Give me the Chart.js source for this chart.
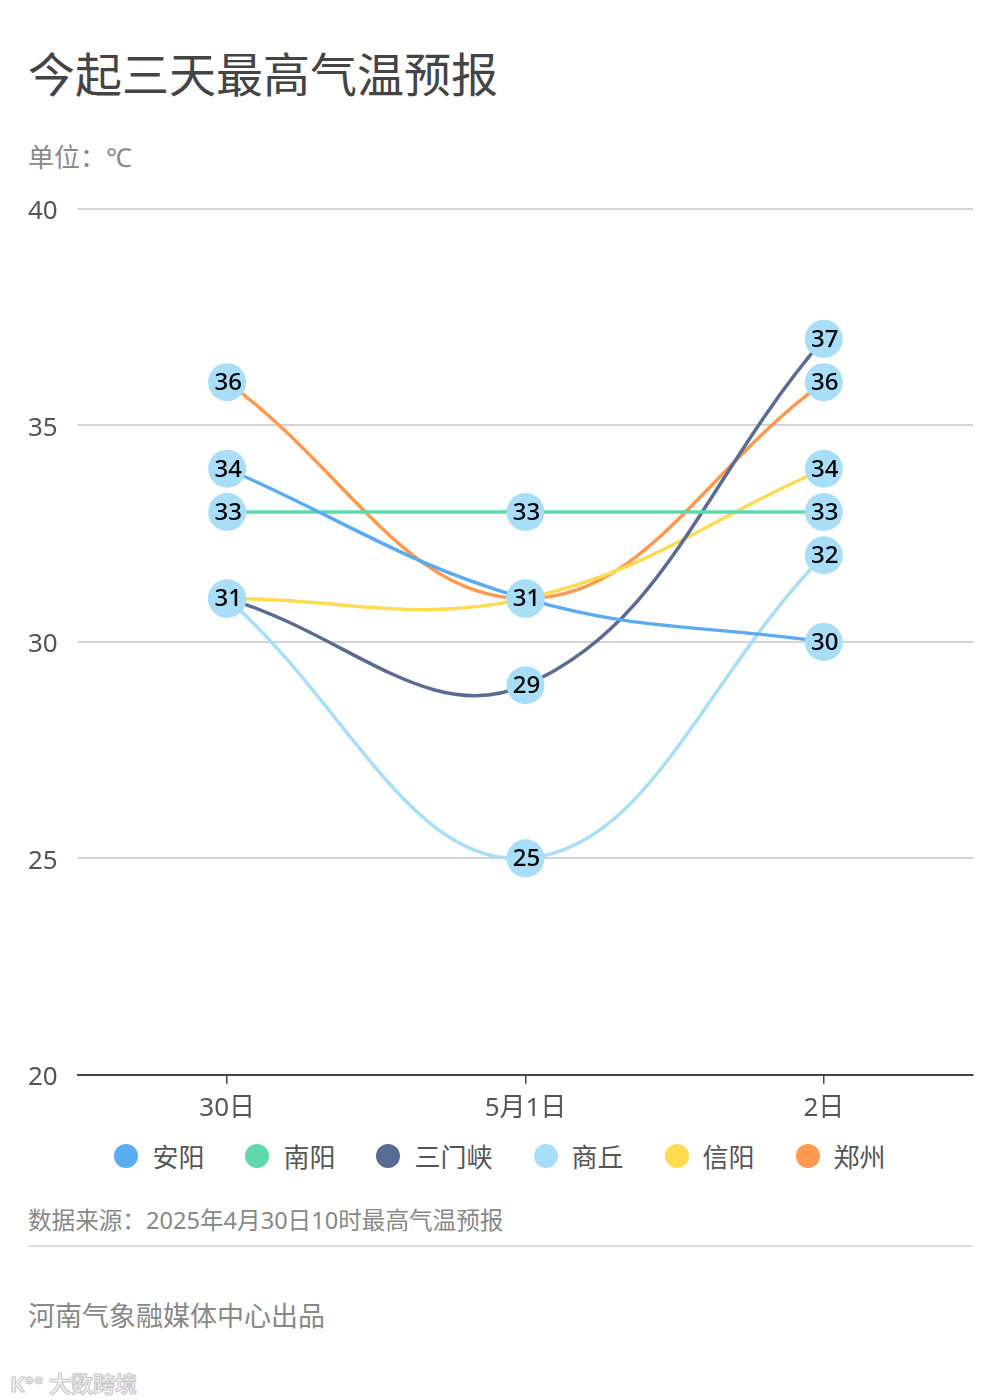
<!DOCTYPE html>
<html><head><meta charset="utf-8">
<script src="https://cdn.jsdelivr.net/npm/chart.js@4.4.1/dist/chart.umd.min.js"></script>
<style>
html,body{margin:0;padding:0;background:#fff;width:1000px;height:1400px;overflow:hidden;font-family:"Noto Sans","Noto Sans CJK SC",sans-serif;}
.t{position:absolute;left:28px;white-space:nowrap;}
#title{top:42px;font-size:47px;color:#444;line-height:64px;}
#unit{top:139px;font-size:26px;color:#888;line-height:36px;}
#src{top:1203px;font-size:23.6px;color:#888;line-height:34px;}
#hr{position:absolute;left:28px;top:1245px;width:945px;height:2px;background:#ddd;}
#org{top:1297px;font-size:27px;color:#888;line-height:38px;}
#wm{position:absolute;left:10px;top:1366px;font-size:22px;color:#f2f2f2;font-weight:bold;-webkit-text-stroke:1px #c8c8c8;}
#wrap{position:absolute;left:0;top:180px;width:1000px;height:955px;}
#legend{position:absolute;left:0;top:1136px;width:1000px;height:40px;display:flex;justify-content:center;align-items:center;gap:41px;font-size:26px;color:#555;}
#legend .it{display:flex;align-items:center;}
#legend .dot{width:24px;height:24px;border-radius:50%;margin-right:14px;}
</style></head>
<body>
<div class="t" id="title">今起三天最高气温预报</div>
<div class="t" id="unit">单位：℃</div>
<div id="wrap"><canvas id="c"></canvas></div>
<div id="legend"></div>
<div class="t" id="src">数据来源：2025年4月30日10时最高气温预报</div>
<div id="hr"></div>
<div class="t" id="org">河南气象融媒体中心出品</div>
<div id="wm">K°° 大数跨境</div>
<script>
const categories = ["30日", "5月1日", "2日"];
const seriesNames = ["安阳", "南阳", "三门峡", "商丘", "信阳", "郑州"];
const anyang = [34, 31, 30];
const nanyang = [33, 33, 33];
const sanmenxia = [31, 29, 37];
const shangqiu = [31, 25, 32];
const xinyang = [31, 31, 34];
const zhengzhou = [36, 31, 36];
const colors = ["#5aabef", "#5fd8ac", "#5a6b94", "#a8def8", "#fedc52", "#fe9a4f"];
const yTicks = [20, 25, 30, 35, 40];

const FONT = '"Noto Sans","Noto Sans CJK SC",sans-serif';
const allSeries = [anyang, nanyang, sanmenxia, shangqiu, xinyang, zhengzhou];

// HTML legend built from the series arrays
const lg = document.getElementById('legend');
seriesNames.forEach((n, i) => {
  const it = document.createElement('div'); it.className = 'it';
  const d = document.createElement('span'); d.className = 'dot'; d.style.background = colors[i];
  const s = document.createElement('span'); s.textContent = n;
  it.appendChild(d); it.appendChild(s); lg.appendChild(it);
});

const labelPlugin = {
  id: 'circleLabels',
  afterDatasetsDraw(chart) {
    const ctx = chart.ctx;
    ctx.save();
    chart.data.datasets.forEach((ds, di) => {
      const meta = chart.getDatasetMeta(di);
      meta.data.forEach((pt, i) => {
        ctx.beginPath();
        ctx.fillStyle = '#a8def8';
        ctx.arc(pt.x, pt.y, 19, 0, Math.PI * 2);
        ctx.fill();
        ctx.fillStyle = '#000';
        ctx.font = '500 24px ' + FONT;
        ctx.textAlign = 'center';
        ctx.textBaseline = 'middle';
        ctx.fillText(String(ds.data[i]), pt.x + 1, pt.y + 1);
      });
    });
    ctx.restore();
  }
};

new Chart(document.getElementById('c'), {
  type: 'line',
  data: {
    labels: categories,
    datasets: allSeries.map((d, i) => ({
      label: seriesNames[i],
      data: d,
      borderColor: colors[i],
      backgroundColor: colors[i],
      borderWidth: 3.5,
      tension: 0.4,
      pointRadius: 0,
      pointHoverRadius: 0,
      fill: false
    }))
  },
  options: {
    responsive: true,
    maintainAspectRatio: false,
    animation: false,
    events: [],
    layout: { padding: { left: 28, right: 27, top: 29, bottom: 2 } },
    plugins: {
      tooltip: { enabled: false },
      legend: { display: false }
    },
    scales: {
      x: {
        offset: true,
        border: { display: true, color: '#444', width: 2 },
        grid: { offset: false, drawOnChartArea: false, drawTicks: true, tickLength: 9, color: '#444', lineWidth: 1.5 },
        ticks: { font: { family: FONT, size: 26 }, color: '#555', padding: 9 }
      },
      y: {
        min: 20, max: 40,
        afterBuildTicks(scale) { scale.ticks = yTicks.map(v => ({ value: v })); },
        afterFit(scale) { scale.width = 50; },
        border: { display: false },
        grid: { drawTicks: false, color: ctx => ctx.tick && ctx.tick.value === 20 ? 'rgba(0,0,0,0)' : '#d4d4d4', lineWidth: 2 },
        ticks: { font: { family: FONT, size: 26 }, color: '#555', crossAlign: 'far', padding: 0, labelOffset: 3 }
      }
    }
  },
  plugins: [labelPlugin]
});
</script>
</body></html>
